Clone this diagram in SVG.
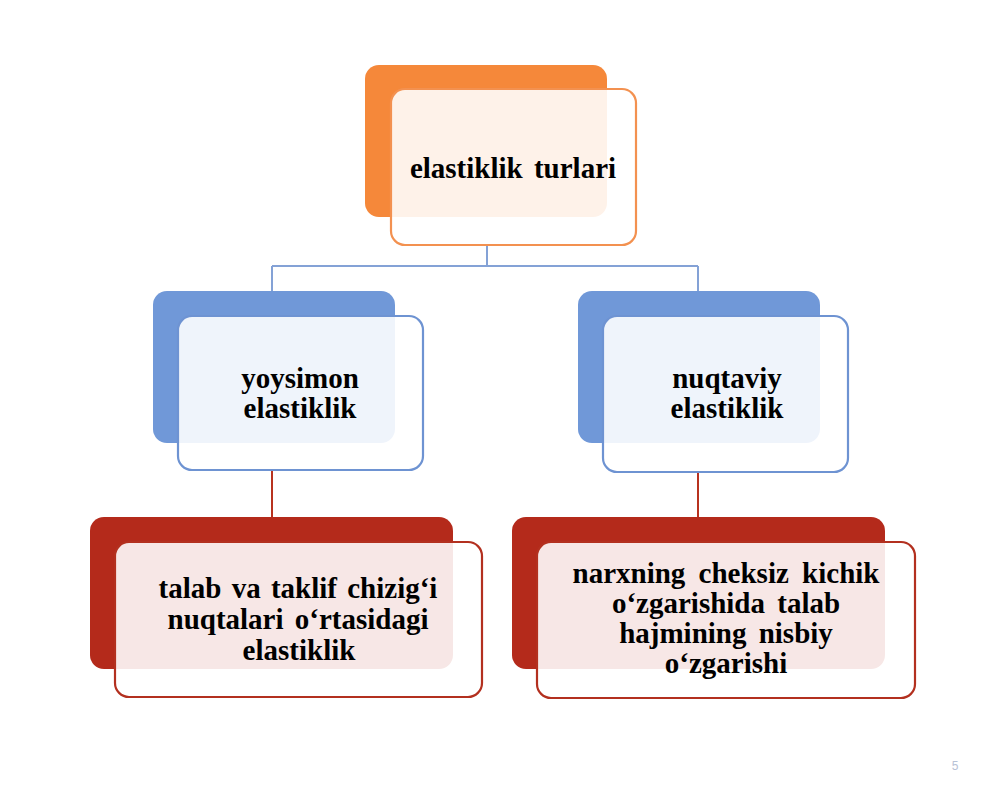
<svg xmlns="http://www.w3.org/2000/svg" width="1000" height="792" viewBox="0 0 1000 792">
<style>
.t{font-family:"Liberation Serif","Times New Roman",serif;font-weight:bold;font-size:29px;fill:#000;text-anchor:middle}
.front{fill:#fff;fill-opacity:0.89;stroke-width:2.2}
.o-back{fill:#f5883a}
.o-front{stroke:#f39150}
.b-back{fill:#7098d8}
.b-front{stroke:#6e93d2}
.r-back{fill:#b42a1b}
.r-front{stroke:#b3301f}
.cb{stroke:#84a2d6;stroke-width:2;fill:none}
.cr{stroke:#b8321f;stroke-width:2;fill:none}
</style>
<rect width="1000" height="792" fill="#fff"/>
<g id="connectors">
<path class="cb" d="M487 245 V266 M272 266 H698 M272 266 V292 M698 266 V292"/>
<path class="cr" d="M272 470 V518 M698 472 V518"/>
</g>
<g id="node-top">
<rect class="o-back" x="365" y="65" width="242" height="152" rx="14"/>
<rect class="front o-front" x="391" y="89" width="245" height="156" rx="14"/>
<text class="t" x="513" y="178" word-spacing="4">elastiklik turlari</text>
</g>
<g id="node-yoysimon">
<rect class="b-back" x="153" y="291" width="242" height="152" rx="14"/>
<rect class="front b-front" x="178" y="316" width="245" height="154" rx="14"/>
<text class="t" x="300" y="388">yoysimon</text>
<text class="t" x="300" y="418">elastiklik</text>
</g>
<g id="node-nuqtaviy">
<rect class="b-back" x="578" y="291" width="242" height="152" rx="14"/>
<rect class="front b-front" x="603" y="316" width="245" height="156" rx="14"/>
<text class="t" x="727" y="388">nuqtaviy</text>
<text class="t" x="727" y="418">elastiklik</text>
</g>
<g id="node-talab">
<rect class="r-back" x="90" y="517" width="363" height="152" rx="14"/>
<rect class="front r-front" x="115" y="542" width="367" height="155" rx="14"/>
<text class="t" x="298" y="598" word-spacing="3">talab va taklif chizig‘i</text>
<text class="t" x="298" y="629" word-spacing="4">nuqtalari o‘rtasidagi</text>
<text class="t" x="299" y="660">elastiklik</text>
</g>
<g id="node-narx">
<rect class="r-back" x="512" y="517" width="373" height="152" rx="14"/>
<rect class="front r-front" x="537" y="542" width="378" height="156" rx="14"/>
<text class="t" x="726" y="583" word-spacing="6">narxning cheksiz kichik</text>
<text class="t" x="726" y="613" word-spacing="5">o‘zgarishida talab</text>
<text class="t" x="726" y="643" word-spacing="5">hajmining nisbiy</text>
<text class="t" x="726" y="673">o‘zgarishi</text>
</g>
<text x="955" y="770" font-family="'Liberation Sans',Arial,sans-serif" font-size="12" fill="#b8c2d6" text-anchor="middle">5</text>
</svg>
